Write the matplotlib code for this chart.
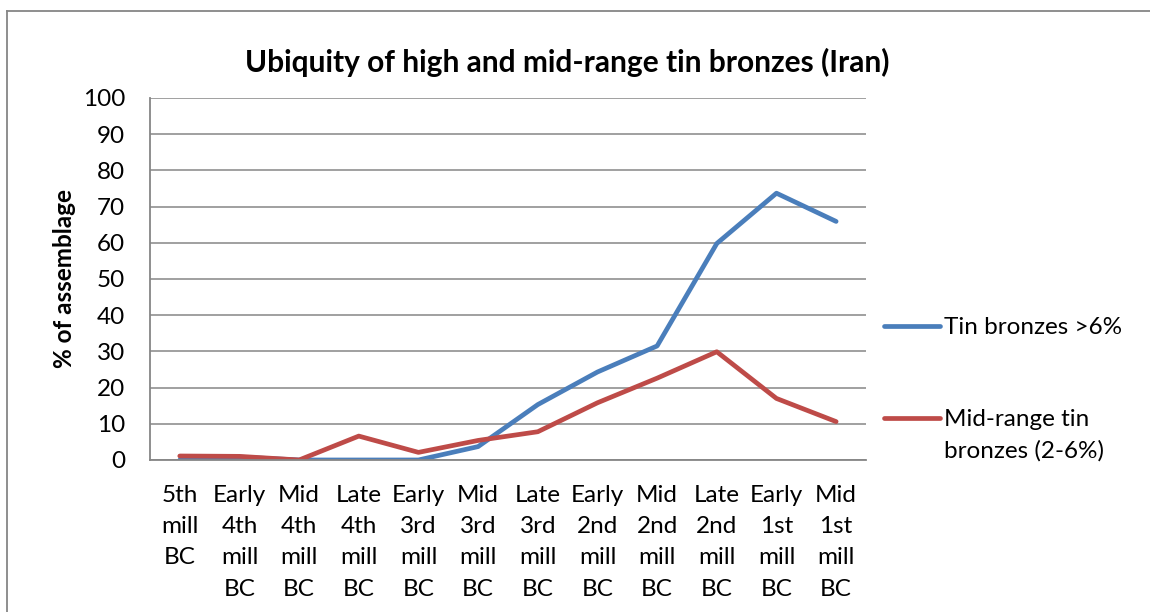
import numpy as np
import matplotlib.pyplot as plt
from matplotlib.lines import Line2D

periods = ['5th mill BC', 'Early 4th mill BC', 'Mid 4th mill BC', 'Late 4th mill BC',
           'Early 3rd mill BC', 'Mid 3rd mill BC', 'Late 3rd mill BC', 'Early 2nd mill BC',
           'Mid 2nd mill BC', 'Late 2nd mill BC', 'Early 1st mill BC', 'Mid 1st mill BC']
tin_high = [0, 0.8, 0, 0, 0, 3.7, 15.3, 24.3, 31.5, 59.8, 73.7, 65.9]
tin_mid = [1.1, 1.0, 0, 6.6, 2.1, 5.4, 7.8, 15.8, 22.6, 29.9, 17.0, 10.6]
y_ticks = list(range(0, 101, 10))

plt.rcParams['font.family'] = ['Lato', 'DejaVu Sans']
fs = 17.5

fig = plt.figure(figsize=(11.5, 6.12), dpi=100)
ax = fig.add_axes([0.1304, 0.2484, 0.6226, 0.5915])

x = np.arange(len(periods))
ax.plot(x, tin_high, color='#4A7EBB', lw=3.4, solid_joinstyle='round',
        solid_capstyle='round', label='Tin bronzes >6%')
ax.plot(x, tin_mid, color='#BE4B48', lw=3.4, solid_joinstyle='round',
        solid_capstyle='round', label='Mid-range tin\nbronzes (2-6%)')

ax.set_xlim(-0.5, len(periods) - 0.5)
ax.set_ylim(0, 100)
ax.set_yticks(y_ticks)
ax.set_yticklabels([str(v) for v in y_ticks], fontsize=fs)
ax.yaxis.grid(True, color='#868686', lw=1.1)
ax.set_axisbelow(True)
ax.tick_params(axis='y', length=0, pad=18)
ax.tick_params(axis='x', length=0, pad=18)
ax.set_xticks(x)
ax.set_xticklabels(['\n'.join(p.split()) for p in periods], fontsize=fs,
                   linespacing=1.6, va='top')
for side in ['top', 'right']:
    ax.spines[side].set_visible(False)
for side in ['left', 'bottom']:
    ax.spines[side].set_color('#868686')
    ax.spines[side].set_linewidth(1.3)

ax.set_ylabel('% of assemblage', fontsize=fs, fontweight='bold', labelpad=5)
fig.text(0.493, 0.898, 'Ubiquity of high and mid-range tin bronzes (Iran)',
         ha='center', va='center', fontsize=21.5, fontweight='bold')

leg = ax.legend(loc='upper left', bbox_to_anchor=(0.995, 0.455), frameon=False,
                fontsize=fs, handlelength=2.3, handletextpad=0.15,
                labelspacing=2.9)
leg.get_texts()[1].set_linespacing(1.6)
# put the second key line level with the first line of its label
red_key = leg.get_lines()[1]
red_key.set_ydata(np.asarray(red_key.get_ydata()) + 12)

# outer chart border
fig.add_artist(Line2D([0.006, 0.006], [0, 0.982], color='#868686', lw=1.3))
fig.add_artist(Line2D([0.006, 1.0], [0.982, 0.982], color='#868686', lw=1.3))

fig.savefig('out.png', dpi=100)
